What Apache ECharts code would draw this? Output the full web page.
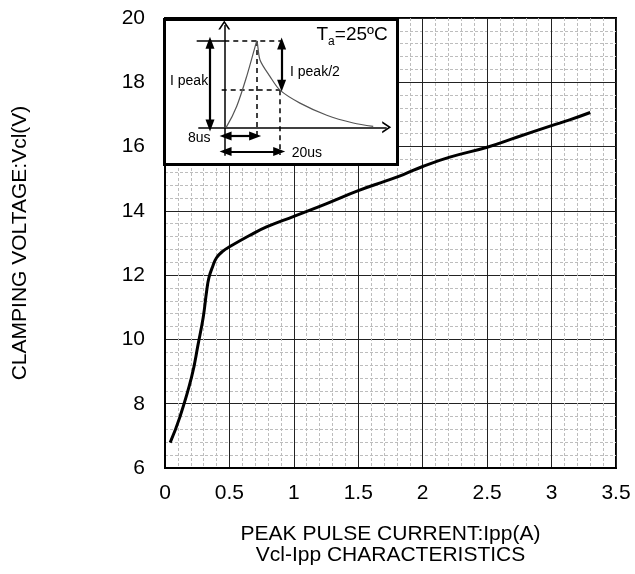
<!DOCTYPE html>
<html>
<head>
<meta charset="utf-8">
<script src="https://cdn.jsdelivr.net/npm/echarts@6/dist/echarts.min.js"></script>
<style>
html,body{margin:0;padding:0;background:#fff;}
#chart{width:635px;height:574px;}
</style>
</head>
<body>
<div id="chart"></div>
<script>
// Main curve: Vcl vs Ipp
const ippValues = [0.04,0.116,0.207,0.258,0.297,0.323,0.341,0.37,0.40,0.45,0.504,0.659,0.788,1.0,1.25,1.5,1.72,1.85,2.0,2.21,2.5,2.73,3.0,3.14,3.30];
const vclValues = [6.79,7.59,8.84,9.87,10.7,11.5,11.92,12.27,12.54,12.75,12.89,13.24,13.5,13.83,14.22,14.63,14.94,15.13,15.38,15.67,15.98,16.29,16.65,16.83,17.06];
const xTicks = [0,0.5,1,1.5,2,2.5,3,3.5];
const yTicks = [6,8,10,12,14,16,18,20];

// Inset pulse waveform (schematic units)
const pulseT = [0,1.5,7.6,13.8,19.5,20,22,28.1,34.3,46.6,63.1,79.4,91.7];
const pulseI = [0,0.01,0.24,0.59,0.97,1.0,0.78,0.59,0.43,0.28,0.14,0.05,0.01];

const xTitle = 'PEAK PULSE CURRENT:Ipp(A)\nVcl-Ipp CHARACTERISTICS';
const yTitle = 'CLAMPING VOLTAGE:Vcl(V)';

const FONT = 'Liberation Sans, Arial, sans-serif';
const chart = echarts.init(document.getElementById('chart'), null, {renderer:'canvas'});

const chevron = 'path://M0,10 L5,0 L10,10 L8.4,10 L5,3.2 L1.6,10 Z';
function seg(a, b, opts) {
  opts = opts || {};
  const s0 = opts.s0 || 'none', s1 = opts.s1 || 'none';
  const size = opts.size || [9, 12];
  return [
    {coord: a, symbol: s0, symbolSize: size, lineStyle: {color: '#000', width: opts.w || 1.5, type: opts.type || 'solid'}},
    {coord: b, symbol: s1, symbolSize: size}
  ];
}

const insetLines = [
  seg([-17,1],[0,1]),
  seg([0,1],[35.3,1],{type:[5,4]}),
  seg([-16,0],[100,0],{s1:chevron,size:[12,9],w:1.5}),
  seg([0,-0.33],[0,1.185],{s1:chevron,size:[12,9],w:1.5}),
  seg([-1.6,0.43],[34.3,0.43],{type:[5,4]}),
  seg([20,1],[20,-0.14],{type:[5,4]}),
  seg([34.3,0.43],[34.3,-0.32],{type:[5,4]}),
  seg([-8.8,0.98],[-8.8,0.02],{s0:'triangle',s1:'triangle',w:2.2}),
  seg([35.3,0.97],[35.3,0.48],{s0:'triangle',s1:'triangle',w:2.2}),
  seg([0.8,-0.1],[19,-0.1],{s0:'triangle',s1:'triangle',w:2.2}),
  seg([0.8,-0.28],[33.8,-0.28],{s0:'triangle',s1:'triangle',w:2.2})
];

const option = {
  backgroundColor: '#fff',
  animation: false,
  grid: [
    {left: 165, right: 19, top: 18, bottom: 106, show: true, borderColor: '#000', borderWidth: 2},
    {left: 191.8, top: 23.7, width: 194.9, height: 138.1, show: false}
  ],
  xAxis: [
    {
      type: 'value', gridIndex: 0, min: xTicks[0], max: xTicks[xTicks.length-1], interval: 0.5,
      axisLine: {show: true, lineStyle: {color: '#000', width: 2}},
      axisTick: {show: false},
      axisLabel: {color: '#000', fontSize: 21, fontFamily: FONT, margin: 15,
        formatter: v => String(Math.round(v*10)/10)},
      splitLine: {show: true, lineStyle: {color: '#222', width: 1}},
      minorTick: {show: false, splitNumber: 5},
      minorSplitLine: {show: true, lineStyle: {color: '#bdbdbd', width: 1, type: [3,2]}},
      name: xTitle, nameLocation: 'middle', nameGap: 56,
      nameTextStyle: {color: '#000', fontSize: 21, fontFamily: FONT, lineHeight: 21}
    },
    {type: 'value', gridIndex: 1, min: -20, max: 100, show: false}
  ],
  yAxis: [
    {
      type: 'value', gridIndex: 0, min: yTicks[0], max: yTicks[yTicks.length-1], interval: 2,
      axisLine: {show: true, lineStyle: {color: '#000', width: 2}},
      axisTick: {show: false},
      axisLabel: {color: '#000', fontSize: 21, fontFamily: FONT, margin: 20},
      splitLine: {show: true, lineStyle: {color: '#222', width: 1}},
      minorTick: {show: false, splitNumber: 5},
      minorSplitLine: {show: true, lineStyle: {color: '#bdbdbd', width: 1, type: [3,2]}},
      name: yTitle, nameLocation: 'middle', nameGap: 134,
      nameTextStyle: {color: '#000', fontSize: 21, fontFamily: FONT}
    },
    {type: 'value', gridIndex: 1, min: -0.4, max: 1.2, show: false}
  ],
  graphic: [
    {type: 'rect', z: 5, shape: {x: 164.5, y: 19.5, width: 233, height: 145},
      style: {fill: '#fff', stroke: '#000', lineWidth: 3}},
    {type: 'text', z: 20, x: 170, y: 80.7, style: {text: 'I peak', fontSize: 14, fontFamily: FONT, fill: '#000', verticalAlign: 'middle'}},
    {type: 'text', z: 20, x: 290, y: 71.7, style: {text: 'I peak/2', fontSize: 14, fontFamily: FONT, fill: '#000', verticalAlign: 'middle'}},
    {type: 'text', z: 20, x: 188, y: 138, style: {text: '8us', fontSize: 14, fontFamily: FONT, fill: '#000', verticalAlign: 'middle'}},
    {type: 'text', z: 20, x: 291.7, y: 152.7, style: {text: '20us', fontSize: 14, fontFamily: FONT, fill: '#000', verticalAlign: 'middle'}},
    {type: 'text', z: 20, x: 316.5, y: 25, style: {
      text: '{n|T}{s|a}{n|=25ºC}', fontFamily: FONT, fill: '#000',
      rich: {
        n: {fontSize: 19, fontFamily: FONT, lineHeight: 23, verticalAlign: 'top'},
        s: {fontSize: 12, fontFamily: FONT, lineHeight: 23, verticalAlign: 'bottom', padding: [10,0,0,0]}
      }
    }}
  ],
  series: [
    {
      type: 'line', xAxisIndex: 0, yAxisIndex: 0,
      data: ippValues.map((x, i) => [x, vclValues[i]]),
      showSymbol: false, smooth: 0.45,
      lineStyle: {color: '#000', width: 3},
      z: 3
    },
    {
      type: 'line', xAxisIndex: 1, yAxisIndex: 1, z: 10, clip: false,
      data: pulseT.map((t, i) => [t, pulseI[i]]),
      showSymbol: false, smooth: 0.3,
      lineStyle: {color: '#555', width: 1.2},
      markLine: {silent: true, animation: false, label: {show: false}, data: insetLines}
    }
  ]
};
chart.setOption(option);
</script>
</body>
</html>
